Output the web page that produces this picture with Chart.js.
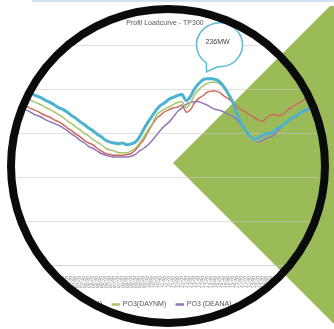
<!DOCTYPE html>
<html>
<head>
<meta charset="utf-8">
<script src="https://cdn.jsdelivr.net/npm/chart.js@4.4.0/dist/chart.umd.min.js"></script>
<style>
  html, body { margin: 0; padding: 0; background: #fff; overflow: hidden; }
  #grafico-beban { display: block; filter: blur(0.4px); }
</style>
</head>
<body>
<canvas id="grafico-beban" width="334" height="329"></canvas>
<script>
const jam = ["00:00","00:20","00:40","01:00","01:20","01:40","02:00","02:20","02:40","03:00","03:20","03:40",
  "04:00","04:20","04:40","05:00","05:20","05:40","06:00","06:20","06:40","07:00","07:20","07:40",
  "08:00","08:20","08:40","09:00","09:20","09:40","10:00","10:20","10:40","11:00","11:20","11:40",
  "12:00","12:20","12:40","13:00","13:20","13:40","14:00","14:20","14:40","15:00","15:20","15:40",
  "16:00","16:20","16:40","17:00","17:20","17:40","18:00","18:20","18:40","19:00","19:20","19:40",
  "20:00","20:20","20:40","21:00","21:20","21:40","22:00","22:20","22:40","23:00","23:20","23:40"];

const namaSeri = ["PO3 (DAYPEAK)", "PO3(DAYNM)", "PO3 (DEANA)", "PO3 (PEAK)"];

const bebanCyan = [200,197,194,192,190,187,185,182,179,177,
  174,170,167,163,160,156,153,149,146,142,
  140,139,138,139,137,138,140,146,155,163,
  170,177,182,185,189,191,193,194,187,192,
  201,207,211,212,212,211,208,202,194,185,
  171,161,153,147,143,145,148,150,150,154,
  157,160,164,168,170,174,176,178,180,183,
  184,186];
const bebanHijau = [192,189,186,184,182,179,177,174,171,168,
  164,161,157,154,150,147,143,140,137,133,
  131,130,128,128,128,130,133,139,146,154,
  161,171,175,178,180,183,185,186,179,185,
  194,200,204,207,208,208,206,201,193,184,
  170,160,152,146,142,143,147,149,149,153,
  156,159,163,167,169,172,175,177,179,182,
  183,185];
const bebanUngu = [177,175,172,170,168,165,163,161,159,156,
  153,149,146,142,139,135,133,130,127,125,
  124,123,123,123,123,124,126,130,133,137,
  142,148,154,159,163,169,175,179,183,185,
  186,186,184,182,179,177,176,174,171,169,
  165,159,153,147,143,140,142,145,146,150,
  155,159,163,167,169,172,175,177,179,182,
  183,185];
const bebanMerah = [182,179,177,175,172,170,168,165,163,160,
  156,153,149,146,142,139,137,133,130,127,
  126,125,125,125,126,127,131,137,143,152,
  160,167,171,175,177,179,180,182,174,177,
  185,190,193,197,198,198,196,192,189,185,
  180,177,174,171,168,165,164,168,171,171,
  170,172,177,180,183,186,189,191,193,194,
  196,197];

const teksPuncak = "236MW";
const huruf = "'Liberation Sans Narrow', 'Liberation Sans', sans-serif";

const CX = 168, CY = 166, R = 157;

function segitiga(c) {
  c.fillStyle = "#9bbb59";
  c.beginPath();
  c.moveTo(173, 163);
  c.lineTo(330, 6);
  c.lineTo(334, 6);
  c.lineTo(334, 323);
  c.lineTo(333, 323);
  c.closePath();
  c.fill();
}

const bingkai = {
  id: "bingkai",
  beforeDraw(chart) {
    const c = chart.ctx;
    c.save();
    c.fillStyle = "#fff";
    c.fillRect(0, 0, chart.width, chart.height);
    segitiga(c);
    c.restore();
  },
  afterDatasetsDraw(chart) {
    // balon keterangan di atas puncak seri biru
    const c = chart.ctx;
    const idx = bebanCyan.indexOf(Math.max(...bebanCyan));
    const pt = chart.getDatasetMeta(0).data[idx];
    const bx = pt.x + 12, by = pt.y - 34;
    const a1 = 95 * Math.PI / 180, a2 = 125 * Math.PI / 180;
    c.save();
    c.beginPath();
    c.ellipse(bx, by, 23, 22, 0, a2, a1 + Math.PI * 2);
    c.lineTo(pt.x - 1, pt.y - 7);
    c.closePath();
    c.fillStyle = "#fff";
    c.fill();
    c.lineWidth = 1.5;
    c.strokeStyle = "#5cbcd6";
    c.stroke();
    c.fillStyle = "#444";
    c.font = "7px " + huruf;
    c.textAlign = "center";
    c.textBaseline = "middle";
    c.fillText(teksPuncak, bx - 2, by - 3);
    c.restore();
  },
  afterDraw(chart) {
    const c = chart.ctx;
    c.save();
    c.beginPath();
    c.rect(0, 0, chart.width, chart.height);
    c.arc(CX, CY, R, 0, Math.PI * 2);
    c.clip("evenodd");
    c.fillStyle = "#fff";
    c.fillRect(0, 0, chart.width, chart.height);
    segitiga(c);
    c.restore();

    c.save();
    c.beginPath();
    c.arc(CX, CY, R, 0, Math.PI * 2);
    c.lineWidth = 8;
    c.strokeStyle = "#0b0b0b";
    c.stroke();
    c.fillStyle = "#d3e2f3";
    c.fillRect(32, 0, 302, 2);
    c.restore();
  }
};

const ctxBeban = document.getElementById("grafico-beban").getContext("2d");
const chartBeban = {
  labels: jam,
  datasets: [
    { label: namaSeri[0], data: bebanCyan, borderColor: "#4bb2cf", backgroundColor: "#4bb2cf", borderWidth: 3 },
    { label: namaSeri[1], data: bebanHijau, borderColor: "#a5c66a", backgroundColor: "#a5c66a", borderWidth: 1.5 },
    { label: namaSeri[2], data: bebanUngu, borderColor: "#9278b8", backgroundColor: "#9278b8", borderWidth: 1.5 },
    { label: namaSeri[3], data: bebanMerah, borderColor: "#cf6a5a", backgroundColor: "#cf6a5a", borderWidth: 1.5 },
  ],
};
const bebanConfig = {
  type: "line",
  data: chartBeban,
  plugins: [bingkai],
  options: {
    responsive: false,
    animation: false,
    events: [],
    elements: {
      point: { radius: 0 },
      line: { tension: 0.3 },
    },
    layout: { padding: { top: 19, left: 0, right: 4, bottom: 11 } },
    scales: {
      x: {
        grid: { display: false },
        border: { color: "rgba(200,200,200,0.6)" },
        ticks: { autoSkip: false, minRotation: 70, maxRotation: 70, color: "#888", font: { size: 5, family: huruf }, padding: 2 },
      },
      y: {
        min: 0,
        max: 250,
        afterFit(axis) { axis.width = 25; },
        grid: { color: "rgba(200,200,200,0.55)" },
        border: { display: false },
        ticks: { stepSize: 50, color: "#888", font: { size: 5, family: huruf }, padding: 2 },
      },
    },
    plugins: {
      title: {
        display: true,
        text: "Profil Loadcurve - TP300",
        color: "#555",
        font: { size: 7, family: huruf, weight: "normal" },
        padding: { top: 0, bottom: 18 },
      },
      legend: {
        display: true,
        position: "bottom",
        labels: { color: "#555", font: { size: 7, family: huruf }, boxWidth: 7, boxHeight: 1, padding: 10 },
      },
      tooltip: { enabled: false },
    },
  },
};
const graficoBeban = new Chart(ctxBeban, bebanConfig);
</script>
</body>
</html>
